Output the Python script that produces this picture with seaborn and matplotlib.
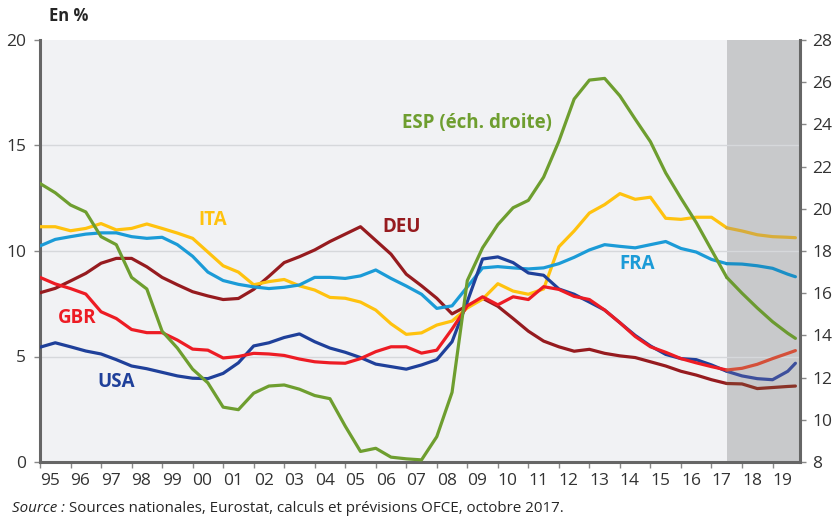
import numpy as np
import pandas as pd
import matplotlib
matplotlib.use("Agg")
import matplotlib.pyplot as plt
import seaborn as sns

# half-year points, last one = end 2019
years = list(np.arange(1995, 2019.6, 0.5)) + [2019.75]

ita = [11.15, 11.15, 10.96, 11.07, 11.3, 11.0, 11.07, 11.28, 11.07, 10.85,
       10.6, 9.95, 9.3, 9.0, 8.4, 8.55, 8.65, 8.35, 8.15, 7.8,
       7.76, 7.58, 7.2, 6.55, 6.05, 6.12, 6.49, 6.68, 7.3, 7.72,
       8.45, 8.1, 7.95, 8.2, 10.2, 10.95, 11.8, 12.2, 12.72, 12.45,
       12.55, 11.55, 11.5, 11.6, 11.6, 11.1, 10.95, 10.77, 10.68, 10.65, 10.63]
fra = [10.24, 10.55, 10.68, 10.8, 10.86, 10.86, 10.68, 10.6, 10.65, 10.3,
       9.75, 9.0, 8.6, 8.42, 8.3, 8.22, 8.28, 8.39, 8.75, 8.75,
       8.7, 8.82, 9.1, 8.7, 8.34, 7.95, 7.28, 7.4, 8.3, 9.2,
       9.26, 9.2, 9.15, 9.2, 9.4, 9.7, 10.05, 10.3, 10.22, 10.15,
       10.3, 10.45, 10.12, 9.95, 9.6, 9.4, 9.38, 9.3, 9.18, 8.9, 8.78]
deu = [8.02, 8.23, 8.58, 8.94, 9.42, 9.65, 9.65, 9.25, 8.75, 8.4,
       8.07, 7.87, 7.7, 7.75, 8.18, 8.8, 9.45, 9.73, 10.05, 10.45,
       10.8, 11.15, 10.5, 9.85, 8.9, 8.35, 7.76, 7.02, 7.4, 7.76,
       7.38, 6.8, 6.2, 5.73, 5.46, 5.25, 5.34, 5.15, 5.03, 4.95,
       4.75, 4.55, 4.3, 4.12, 3.9, 3.72, 3.7, 3.48, 3.53, 3.58, 3.6]
gbr = [8.75, 8.44, 8.22, 7.96, 7.12, 6.8, 6.28, 6.13, 6.13, 5.78,
       5.35, 5.3, 4.93, 5.0, 5.15, 5.12, 5.05, 4.88, 4.75, 4.7,
       4.68, 4.9, 5.23, 5.46, 5.46, 5.16, 5.3, 6.3, 7.4, 7.83,
       7.45, 7.83, 7.7, 8.31, 8.18, 7.85, 7.7, 7.2, 6.6, 5.95,
       5.46, 5.2, 4.9, 4.7, 4.52, 4.36, 4.44, 4.63, 4.9, 5.15, 5.28]
usa = [5.44, 5.65, 5.46, 5.26, 5.12, 4.85, 4.55, 4.42, 4.25, 4.08,
       3.97, 3.95, 4.2, 4.7, 5.5, 5.65, 5.9, 6.07, 5.7, 5.4,
       5.2, 4.95, 4.64, 4.52, 4.4, 4.6, 4.85, 5.7, 7.6, 9.62,
       9.72, 9.45, 8.96, 8.85, 8.2, 7.95, 7.58, 7.2, 6.6, 6.0,
       5.5, 5.1, 4.9, 4.85, 4.6, 4.3, 4.08, 3.95, 3.9, 4.3, 4.68]
# Spain is on the right-hand scale
esp = [21.2, 20.76, 20.18, 19.85, 18.68, 18.3, 16.75, 16.2, 14.2, 13.4,
       12.4, 11.75, 10.6, 10.48, 11.26, 11.6, 11.65, 11.45, 11.15, 11.0,
       9.7, 8.5, 8.65, 8.23, 8.15, 8.1, 9.2, 11.3, 16.6, 18.15,
       19.25, 20.05, 20.4, 21.5, 23.2, 25.2, 26.1, 26.18, 25.35, 24.25,
       23.18, 21.7, 20.5, 19.35, 18.05, 16.75, 16.0, 15.3, 14.65, 14.1, 13.86]

forecast_start = 2017.5
x_labels = [f"{y % 100:02d}" for y in range(1995, 2020)]

sns.set_theme(style="white")
plt.rcParams["font.family"] = ["Open Sans", "DejaVu Sans"]

df = pd.DataFrame({"year": years, "ITA": ita, "FRA": fra, "DEU": deu,
                   "GBR": gbr, "USA": usa, "ESP": esp})
hist = df[df["year"] <= forecast_start]
prev = df[df["year"] >= forecast_start]

# (history colour, forecast colour)
colors = {
    "ITA": ("#FFC20E", "#D8AD3A"),
    "FRA": ("#1B9BD7", "#1A8FC6"),
    "DEU": ("#961B1F", "#8A3328"),
    "USA": ("#1F409A", "#3D4F9C"),
    "GBR": ("#ED1C24", "#D4503A"),
    "ESP": ("#6E9E2F", "#6B9A30"),
}

fig = plt.figure(figsize=(8.36, 5.21), dpi=100)
ax = fig.add_axes([40 / 836, 1 - 462 / 521, 760 / 836, 422 / 521])
ax2 = ax.twinx()

ax.set_facecolor("#F1F2F4")
ax.axvspan(forecast_start, 2019.9, color="#C8C9CB", lw=0, zorder=0.5)
for v in [5, 10, 15]:
    ax.axhline(v, color="#D6D8DB", lw=1, zorder=1)

lw = 2.3
for name in ["DEU", "ITA", "FRA", "USA", "GBR"]:
    sns.lineplot(data=hist, x="year", y=name, color=colors[name][0], lw=lw, ax=ax, zorder=3)
    sns.lineplot(data=prev, x="year", y=name, color=colors[name][1], lw=lw, ax=ax, zorder=3)
sns.lineplot(data=hist, x="year", y="ESP", color=colors["ESP"][0], lw=lw, ax=ax2, zorder=3)
sns.lineplot(data=prev, x="year", y="ESP", color=colors["ESP"][1], lw=lw, ax=ax2, zorder=3)

ax.set_xlim(1995, 2019.9)
ax.set_ylim(0, 20)
ax2.set_ylim(8, 28)
ax.set_xlabel("")
ax.set_ylabel("")
ax2.set_ylabel("")

ax.set_xticks(range(1995, 2020))
ax.set_xticklabels(x_labels, ha="left")
ax.set_yticks([0, 5, 10, 15, 20])
ax2.set_yticks(range(8, 29, 2))

spine_c = "#666666"
for s in ["top", "right"]:
    ax.spines[s].set_visible(False)
for s in ["left", "bottom"]:
    ax.spines[s].set_color(spine_c)
    ax.spines[s].set_linewidth(2.2)
for s in ["top", "left", "bottom"]:
    ax2.spines[s].set_visible(False)
ax2.spines["right"].set_color(spine_c)
ax2.spines["right"].set_linewidth(2.2)

tick_kw = dict(length=4, width=1, color="#888888", labelsize=12.5, labelcolor="#333333")
ax.tick_params(axis="y", left=True, pad=6, **tick_kw)
ax.tick_params(axis="x", bottom=True, pad=4, **tick_kw)
ax2.tick_params(axis="y", right=True, pad=5, **tick_kw)

label_kw = dict(fontsize=13.5, fontweight="bold", ha="center", va="center")
ax.text(2009.32, 16.07, "ESP (éch. droite)", color=colors["ESP"][0], **label_kw)
ax.text(2000.65, 11.47, "ITA", color=colors["ITA"][0], **label_kw)
ax.text(2006.85, 11.14, "DEU", color=colors["DEU"][0], **label_kw)
ax.text(2014.58, 9.38, "FRA", color=colors["FRA"][0], **label_kw)
ax.text(1996.23, 6.82, "GBR", color=colors["GBR"][0], **label_kw)
ax.text(1997.49, 3.79, "USA", color=colors["USA"][0], **label_kw)

fig.text(49 / 836, 1 - 16 / 521, "En %", fontsize=12, fontweight="bold", va="center")

src = fig.text(12 / 836, 1 - 509 / 521, "Source :", fontsize=10.9, style="italic", va="center")
fig.canvas.draw()
bb = src.get_window_extent(fig.canvas.get_renderer())
fig.text((bb.x1 + 4) / 836, 1 - 509 / 521,
         "Sources nationales, Eurostat, calculs et prévisions OFCE, octobre 2017.",
         fontsize=10.9, va="center")

fig.savefig("out.png", dpi=100)
